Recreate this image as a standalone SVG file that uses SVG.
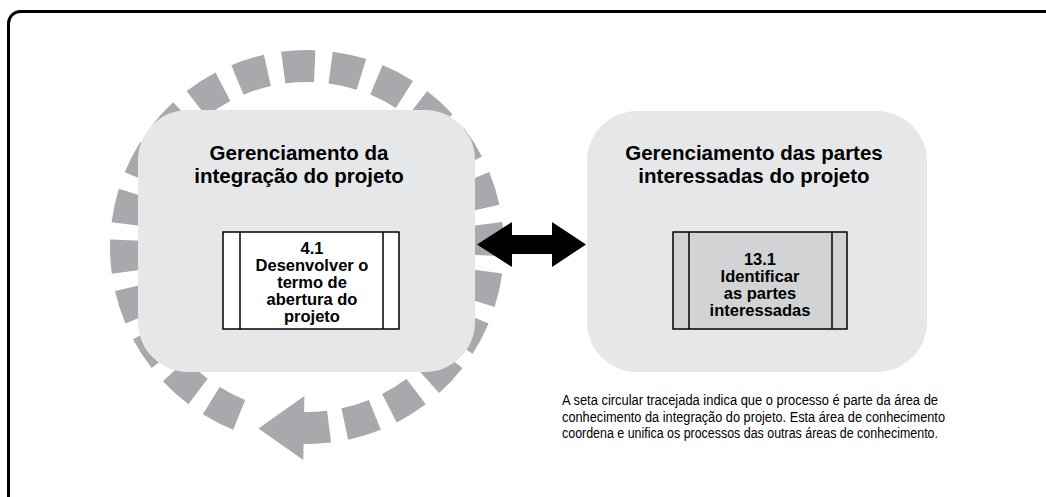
<svg xmlns="http://www.w3.org/2000/svg" width="1046" height="497" viewBox="0 0 1046 497">
<style>
.frame{fill:none;stroke:#000;stroke-width:3}
.area{fill:#e6e7e8}
.ring{fill:none;stroke:#a7a9ac;stroke-width:32}
.ringfill{fill:#a7a9ac}
.proc{stroke:#000;stroke-width:1.5}
.title{font-family:"Liberation Sans",Arial,sans-serif;font-weight:bold;font-size:20.5px;fill:#000;text-anchor:middle}
.ptext{font-family:"Liberation Sans",Arial,sans-serif;font-weight:bold;font-size:16.5px;fill:#000;text-anchor:middle}
.cap{font-family:"Liberation Sans Narrow","Liberation Sans",Arial,sans-serif;font-size:14px;fill:#000}
</style>
<rect class="frame" x="8.5" y="11.5" width="1100" height="600" rx="12"/>
<g id="integration-cycle">
<path class="ring" d="M329.06,426.65 A181,181 0 1 0 239.20,414.82" stroke-dasharray="31.5 16" stroke-dashoffset="31.5"/>
<path class="ring" d="M300.68,427.89 A181,181 0 0 0 329.06,426.65"/>
<polygon class="ringfill" points="304.4,396 303.3,460 258.5,428.5"/>
</g>
<g id="area-integracao">
<rect class="area" x="138" y="110" width="337" height="262" rx="50"/>
<text class="title" x="299" y="160">Gerenciamento da</text>
<text class="title" x="299" y="182.5">integração do projeto</text>
</g>
<g id="process-4-1">
<rect class="proc" x="223" y="232" width="176" height="97" fill="#fff"/>
<line class="proc" x1="240" y1="232" x2="240" y2="329"/>
<line class="proc" x1="383" y1="232" x2="383" y2="329"/>
<text class="ptext" x="312" y="254">4.1</text>
<text class="ptext" x="312" y="271">Desenvolver o</text>
<text class="ptext" x="312" y="288">termo de</text>
<text class="ptext" x="312" y="305">abertura do</text>
<text class="ptext" x="312" y="322">projeto</text>
</g>
<g id="area-partes-interessadas">
<rect class="area" x="587" y="111" width="340" height="261" rx="50"/>
<text class="title" x="754" y="160">Gerenciamento das partes</text>
<text class="title" x="754" y="182.5">interessadas do projeto</text>
</g>
<g id="process-13-1">
<rect class="proc" x="673" y="232" width="174" height="97" fill="#d1d3d4"/>
<line class="proc" x1="689" y1="232" x2="689" y2="329"/>
<line class="proc" x1="832" y1="232" x2="832" y2="329"/>
<text class="ptext" x="760" y="265">13.1</text>
<text class="ptext" x="760" y="282">Identificar</text>
<text class="ptext" x="760" y="299">as partes</text>
<text class="ptext" x="760" y="316">interessadas</text>
</g>
<g id="connectors">
<polygon fill="#000" points="477,244.5 512,222 512,235 552,235 552,222 586,244.5 552,267 552,254 512,254 512,267"/>
</g>
<g id="caption">
<text class="cap" x="562" y="405" textLength="376" lengthAdjust="spacingAndGlyphs">A seta circular tracejada indica que o processo é parte da área de</text>
<text class="cap" x="562" y="421.5" textLength="383" lengthAdjust="spacingAndGlyphs">conhecimento da integração do projeto. Esta área de conhecimento</text>
<text class="cap" x="562" y="438" textLength="376" lengthAdjust="spacingAndGlyphs">coordena e unifica os processos das outras áreas de conhecimento.</text>
</g>
</svg>
